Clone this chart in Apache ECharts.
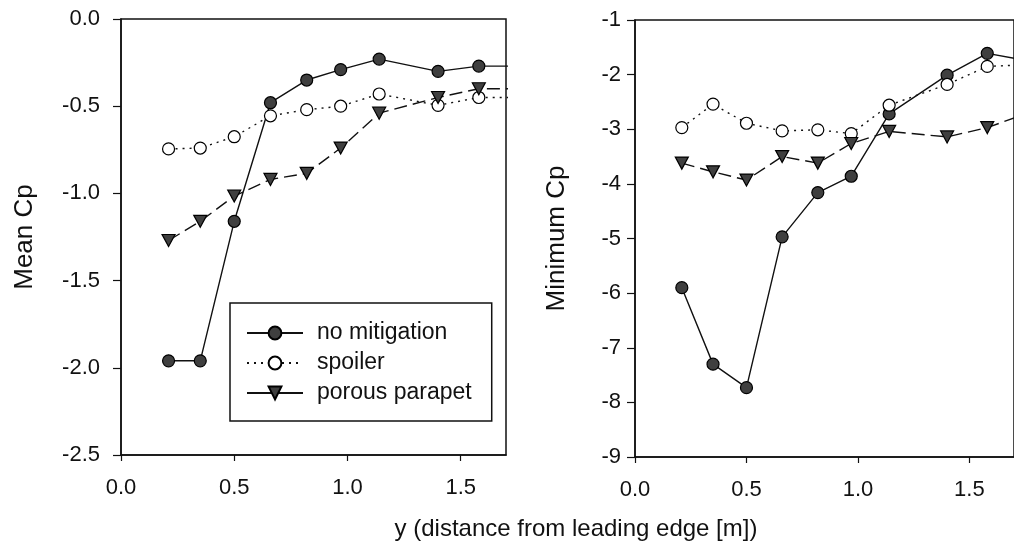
<!DOCTYPE html>
<html>
<head>
<meta charset="utf-8">
<script src="https://cdn.jsdelivr.net/npm/echarts@6/dist/echarts.min.js"></script>
<style>html,body{margin:0;padding:0;background:#fff}#c{width:1014px;height:554px}</style>
</head>
<body>
<div id="c"></div>
<script>
// ---- data ----
var xPos = [0.21, 0.35, 0.50, 0.66, 0.82, 0.97, 1.14, 1.40, 1.58, 1.75];
var seriesNames = ['no mitigation', 'spoiler', 'porous parapet'];
var meanNoMit   = [-1.96, -1.96, -1.16, -0.48, -0.35, -0.29, -0.23, -0.30, -0.27, -0.27];
var meanSpoiler = [-0.745, -0.74, -0.675, -0.555, -0.52, -0.50, -0.43, -0.495, -0.45, -0.45];
var meanPorous  = [-1.27, -1.16, -1.015, -0.92, -0.885, -0.74, -0.54, -0.45, -0.40, -0.40];
var minNoMit    = [-5.90, -7.30, -7.73, -4.97, -4.16, -3.86, -2.72, -2.01, -1.61, -1.74];
var minSpoiler  = [-2.97, -2.54, -2.89, -3.03, -3.01, -3.08, -2.56, -2.18, -1.85, -1.82];
var minPorous   = [-3.62, -3.78, -3.93, -3.50, -3.62, -3.26, -3.04, -3.14, -2.97, -2.72];
var xTicks = [0, 0.5, 1.0, 1.5];
var yLeftName = 'Mean Cp';
var yRightName = 'Minimum Cp';
var xTitle = 'y (distance from leading edge [m])';

function pairs(xs, ys) { return xs.map(function (x, i) { return [x, ys[i]]; }); }

var FONT = 'Liberation Sans, Arial, sans-serif';
var INK = '#111';
var FILL = '#3f3f3f';

function mkX(gi) {
  return {
    type: 'value', gridIndex: gi, min: 0, max: 1.7,
    axisLine: { onZero: false, lineStyle: { color: INK, width: 1.5 } },
    axisTick: { length: 6, lineStyle: { color: INK, width: 1.2 }, customValues: xTicks },
    axisLabel: { customValues: xTicks, margin: 22, fontSize: 22, color: INK, fontFamily: FONT,
      formatter: function (v) { return v.toFixed(1); } },
    splitLine: { show: false }
  };
}
function mkY(gi, min, max, interval, dec, name, gap, margin) {
  return {
    type: 'value', gridIndex: gi, min: min, max: max, interval: interval,
    name: name, nameLocation: 'middle', nameGap: gap,
    nameTextStyle: { fontSize: 26, color: INK, fontFamily: FONT },
    axisLine: { show: true, onZero: false, lineStyle: { color: INK, width: 1.5 } },
    axisTick: { show: true, length: 8, lineStyle: { color: INK, width: 1.2 } },
    axisLabel: { margin: margin, fontSize: 22, color: INK, fontFamily: FONT,
      formatter: function (v) { return v.toFixed(dec); } },
    splitLine: { show: false }
  };
}
function mkSeries(name, gi, data, kind) {
  var s = {
    name: name, type: 'line', xAxisIndex: gi, yAxisIndex: gi, data: data,
    clip: true, animation: false, symbolSize: 12,
    lineStyle: { color: INK, width: 1.4 },
    itemStyle: { color: FILL, borderColor: '#000', borderWidth: 1.2 },
    emphasis: { disabled: true }
  };
  if (kind === 1) {
    s.symbol = 'circle';
    s.lineStyle.type = [2, 5];
    s.itemStyle.color = '#fff';
  } else if (kind === 2) {
    s.symbol = 'triangle';
    s.symbolRotate = 180;
    s.symbolSize = [13, 12];
    s.lineStyle.type = [13, 6];
  } else {
    s.symbol = 'circle';
  }
  return s;
}

var chart = echarts.init(document.getElementById('c'), null, { renderer: 'canvas' });
chart.setOption({
  backgroundColor: '#fff',
  animation: false,
  textStyle: { fontFamily: FONT },
  grid: [
    { left: 121, top: 19, width: 385, height: 436, show: true, borderColor: INK, borderWidth: 1.5, backgroundColor: 'transparent' },
    { left: 635, top: 20, width: 386, height: 437, show: true, borderColor: INK, borderWidth: 1.5, backgroundColor: 'transparent' }
  ],
  xAxis: [mkX(0), mkX(1)],
  yAxis: [
    mkY(0, -2.5, 0, 0.5, 1, yLeftName, 83, 21),
    mkY(1, -9, -1, 1, 0, yRightName, 65, 14)
  ],
  legend: {
    left: 230, top: 303, orient: 'vertical',
    backgroundColor: '#fff', borderColor: INK, borderWidth: 1.5, borderRadius: 0,
    padding: [17, 20, 15, 16], itemGap: 4, itemWidth: 56, itemHeight: 16,
    textStyle: { fontSize: 23, color: INK, fontFamily: FONT, lineHeight: 26, padding: [0, 0, 0, 9] },
    data: [
      { name: seriesNames[0] },
      { name: seriesNames[1] },
      { name: seriesNames[2], lineStyle: { type: 'solid' } }
    ],
    selectedMode: false
  },
  graphic: [{
    type: 'text', x: 576, y: 529,
    style: { text: xTitle, fontSize: 24, fill: INK, fontFamily: FONT, align: 'center', verticalAlign: 'middle' }
  }],
  series: [
    mkSeries(seriesNames[0], 0, pairs(xPos, meanNoMit), 0),
    mkSeries(seriesNames[1], 0, pairs(xPos, meanSpoiler), 1),
    mkSeries(seriesNames[2], 0, pairs(xPos, meanPorous), 2),
    mkSeries(seriesNames[0], 1, pairs(xPos, minNoMit), 0),
    mkSeries(seriesNames[1], 1, pairs(xPos, minSpoiler), 1),
    mkSeries(seriesNames[2], 1, pairs(xPos, minPorous), 2)
  ]
});
</script>
</body>
</html>
